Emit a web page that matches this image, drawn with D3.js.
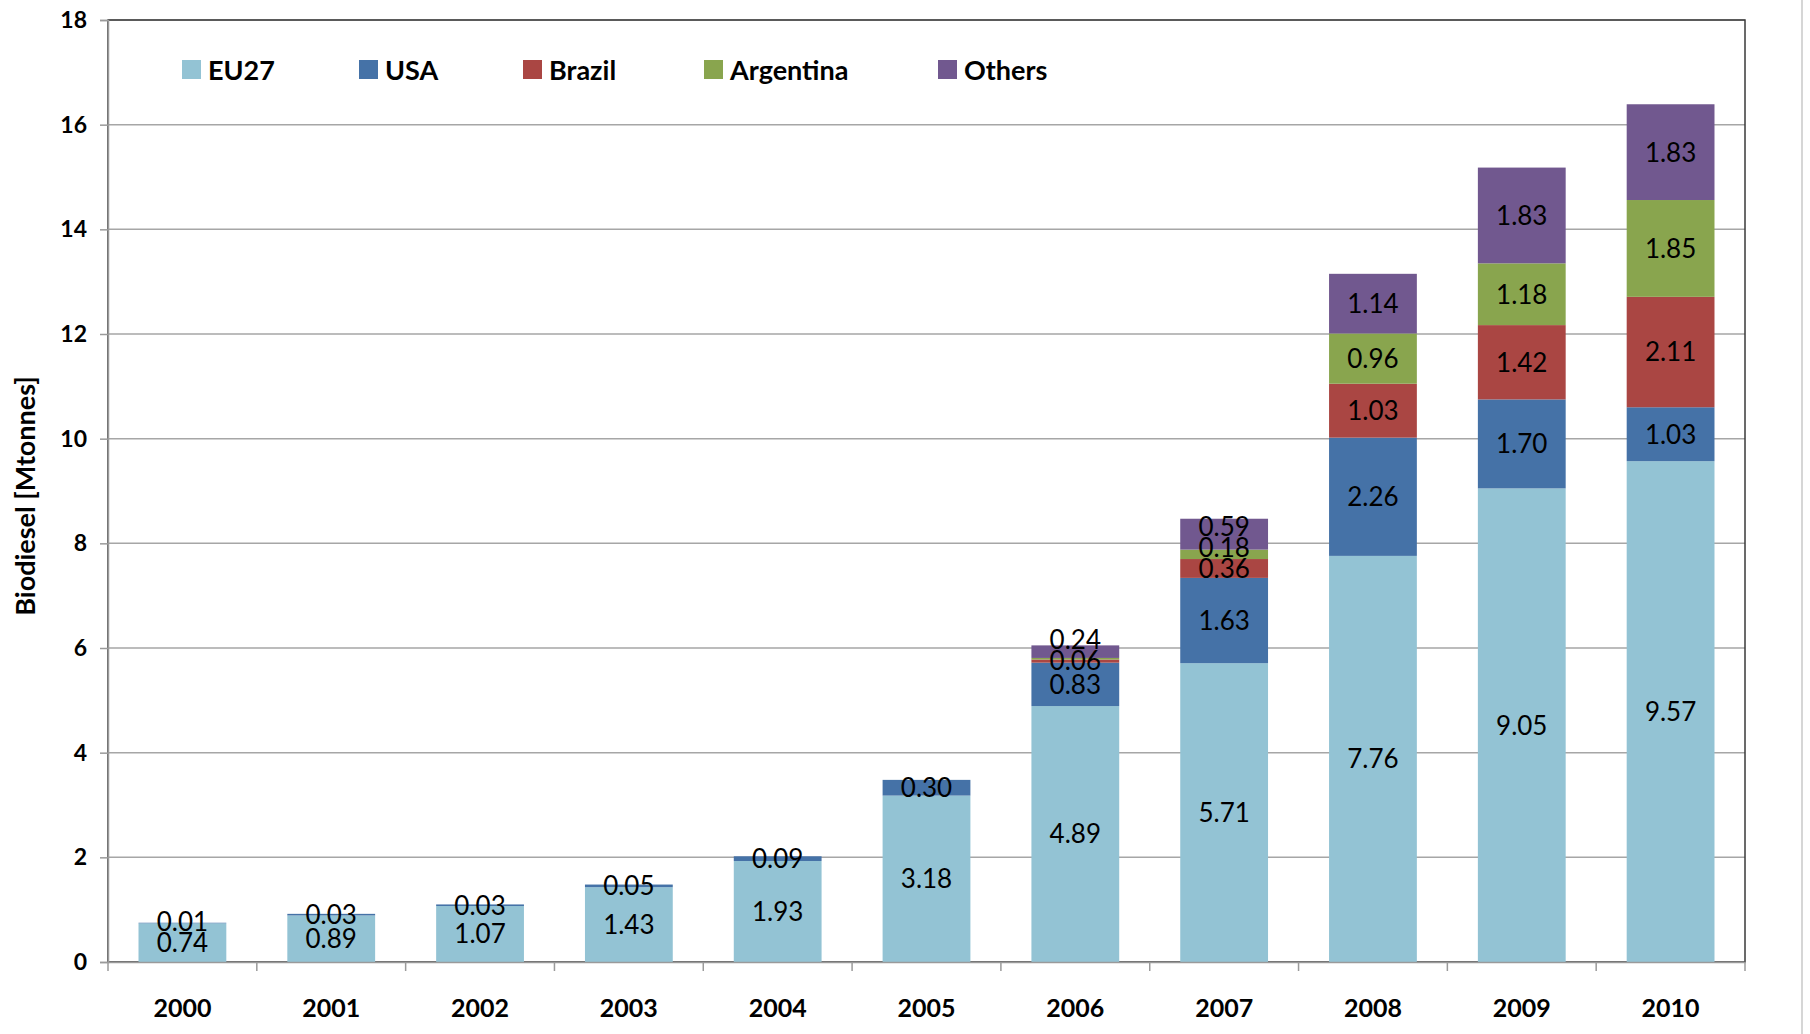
<!DOCTYPE html>
<html>
<head>
<meta charset="utf-8">
<script src="https://cdnjs.cloudflare.com/ajax/libs/d3/7.8.5/d3.min.js"></script>
<style>
  html, body { margin: 0; padding: 0; background: #fff; }
  svg { display: block; font-family: Lato, "Open Sans", sans-serif; }
</style>
</head>
<body>
<div id="chart"></div>
<script>
'use strict';

/*** Data */
const years = ["2000", "2001", "2002", "2003", "2004", "2005", "2006", "2007", "2008", "2009", "2010"];
const seriesNames = ["EU27", "USA", "Brazil", "Argentina", "Others"];
const eu27      = [0.74, 0.89, 1.07, 1.43, 1.93, 3.18, 4.89, 5.71, 7.76, 9.05, 9.57];
const usa       = [0.01, 0.03, 0.03, 0.05, 0.09, 0.30, 0.83, 1.63, 2.26, 1.70, 1.03];
const brazil    = [0, 0, 0, 0, 0, 0, 0.06, 0.36, 1.03, 1.42, 2.11];
const argentina = [0, 0, 0, 0, 0, 0, 0.03, 0.18, 0.96, 1.18, 1.85];
const others    = [0, 0, 0, 0, 0, 0, 0.24, 0.59, 1.14, 1.83, 1.83];
const yTicks = [0, 2, 4, 6, 8, 10, 12, 14, 16, 18];
// labels that the original chart does not show
const hiddenLabels = [["Argentina", "2006"]];

/** Colours */
const colors = {
    EU27: "#93C3D4",
    USA: "#4572A7",
    Brazil: "#AA4643",
    Argentina: "#89A54E",
    Others: "#71588F"
};

/*** Layout */
const w = 1810;
const h = 1034;
const margin = {top: 20, right: 65, bottom: 72, left: 108};
const legendX = [182, 359, 523, 704, 938];

const svg = d3.select("#chart")
    .append("svg")
    .attr("width", w)
    .attr("height", h);

/** Table for the stack */
const columns = [eu27, usa, brazil, argentina, others];
const table = years.map((yr, i) => {
    const row = {year: yr};
    seriesNames.forEach((s, j) => row[s] = columns[j][i]);
    return row;
});
const stacked = d3.stack().keys(seriesNames)(table);

/** Scales */
const xScale = d3.scaleBand()
    .domain(years)
    .range([margin.left, w - margin.right])
    .paddingInner(0.41)
    .paddingOuter(0.205);

const yScale = d3.scaleLinear()
    .domain([0, 18])
    .range([h - margin.bottom, margin.top]);

/** Outer frame line at right of image */
svg.append("line")
    .attr("x1", 1802).attr("x2", 1802)
    .attr("y1", 0).attr("y2", h)
    .attr("stroke", "#c8c8c8")
    .attr("stroke-width", 1.5);

/** Gridlines */
svg.append("g")
    .selectAll("line")
    .data(yTicks.slice(1))
    .join("line")
    .attr("x1", margin.left)
    .attr("x2", w - margin.right)
    .attr("y1", d => yScale(d))
    .attr("y2", d => yScale(d))
    .attr("stroke", "#a6a6a6")
    .attr("stroke-width", 1.5);

/** Plot border (top/right darker) */
svg.append("rect")
    .attr("x", margin.left)
    .attr("y", margin.top)
    .attr("width", w - margin.left - margin.right)
    .attr("height", h - margin.top - margin.bottom)
    .attr("fill", "none")
    .attr("stroke", "#3a3a3a")
    .attr("stroke-width", 1.5);

/** Bars */
svg.append("g")
    .selectAll("g")
    .data(stacked)
    .join("g")
    .attr("fill", d => colors[d.key])
    .selectAll("rect")
    .data(d => d)
    .join("rect")
    .attr("x", d => xScale(d.data.year))
    .attr("width", xScale.bandwidth())
    .attr("y", d => yScale(d[1]))
    .attr("height", d => yScale(d[0]) - yScale(d[1]));

/** Y axis */
const yAxis = d3.axisLeft(yScale)
    .tickValues(yTicks)
    .tickSize(8)
    .tickPadding(13)
    .tickFormat(d3.format("d"));

const gy = svg.append("g")
    .attr("transform", "translate(" + margin.left + ",0)")
    .call(yAxis);
gy.select(".domain").attr("stroke", "#9a9a9a").attr("stroke-width", 1.5);
gy.selectAll(".tick line").attr("stroke", "#9a9a9a").attr("stroke-width", 1.5);
gy.selectAll("text")
    .attr("font-size", 23)
    .attr("font-weight", "bold")
    .attr("fill", "#000")
    .attr("font-family", "Lato, sans-serif");

/** X axis: labels centred, tick marks at category boundaries */
const xAxis = d3.axisBottom(xScale).tickSize(0);
const gx = svg.append("g")
    .attr("transform", "translate(0," + (h - margin.bottom) + ")")
    .call(xAxis);
gx.select(".domain").attr("stroke", "#9a9a9a").attr("stroke-width", 1.5);
gx.selectAll("text")
    .attr("y", 46)
    .attr("dy", "0.35em")
    .attr("font-size", 25)
    .attr("font-weight", "bold")
    .attr("fill", "#000")
    .attr("font-family", "Lato, sans-serif");

const step = xScale.step();
const bounds = d3.range(years.length + 1).map(i => margin.left + i * step);
svg.append("g")
    .selectAll("line")
    .data(bounds)
    .join("line")
    .attr("x1", d => d).attr("x2", d => d)
    .attr("y1", h - margin.bottom)
    .attr("y2", h - margin.bottom + 9)
    .attr("stroke", "#9a9a9a")
    .attr("stroke-width", 1.5);

/** Y axis title */
svg.append("text")
    .attr("transform", "translate(24," + ((margin.top + h - margin.bottom) / 2 + 5) + ") rotate(-90)")
    .attr("text-anchor", "middle")
    .attr("dominant-baseline", "central")
    .attr("font-size", 27)
    .attr("font-weight", "bold")
    .text("Biodiesel [Mtonnes]");

/** Data labels: centred in segment, pushed up when they would collide */
const minGap = 21;
const labels = [];
years.forEach((yr, i) => {
    let lastY = Infinity;
    stacked.forEach(layer => {
        const d = layer[i];
        const v = d[1] - d[0];
        if (v <= 0) return;
        if (hiddenLabels.some(p => p[0] === layer.key && p[1] === yr)) return;
        let yPos = yScale((d[0] + d[1]) / 2);
        if (yPos > lastY - minGap) yPos = lastY - minGap;
        lastY = yPos;
        labels.push({year: yr, y: yPos, text: d3.format(".2f")(v)});
    });
});

svg.append("g")
    .selectAll("text")
    .data(labels)
    .join("text")
    .attr("x", d => xScale(d.year) + xScale.bandwidth() / 2)
    .attr("y", d => d.y)
    .attr("dy", "0.36em")
    .attr("text-anchor", "middle")
    .attr("font-size", 26)
    .attr("fill", "#000")
    .text(d => d.text);

/** Legend */
const legend = svg.append("g")
    .selectAll("g")
    .data(seriesNames)
    .join("g")
    .attr("transform", (d, i) => "translate(" + legendX[i] + ",70)");

legend.append("rect")
    .attr("x", 0)
    .attr("y", -10)
    .attr("width", 19)
    .attr("height", 19)
    .attr("fill", d => colors[d]);

legend.append("text")
    .attr("x", 26)
    .attr("y", 0)
    .attr("dy", "0.36em")
    .attr("font-size", 27)
    .attr("font-weight", "bold")
    .text(d => d);
</script>
</body>
</html>
